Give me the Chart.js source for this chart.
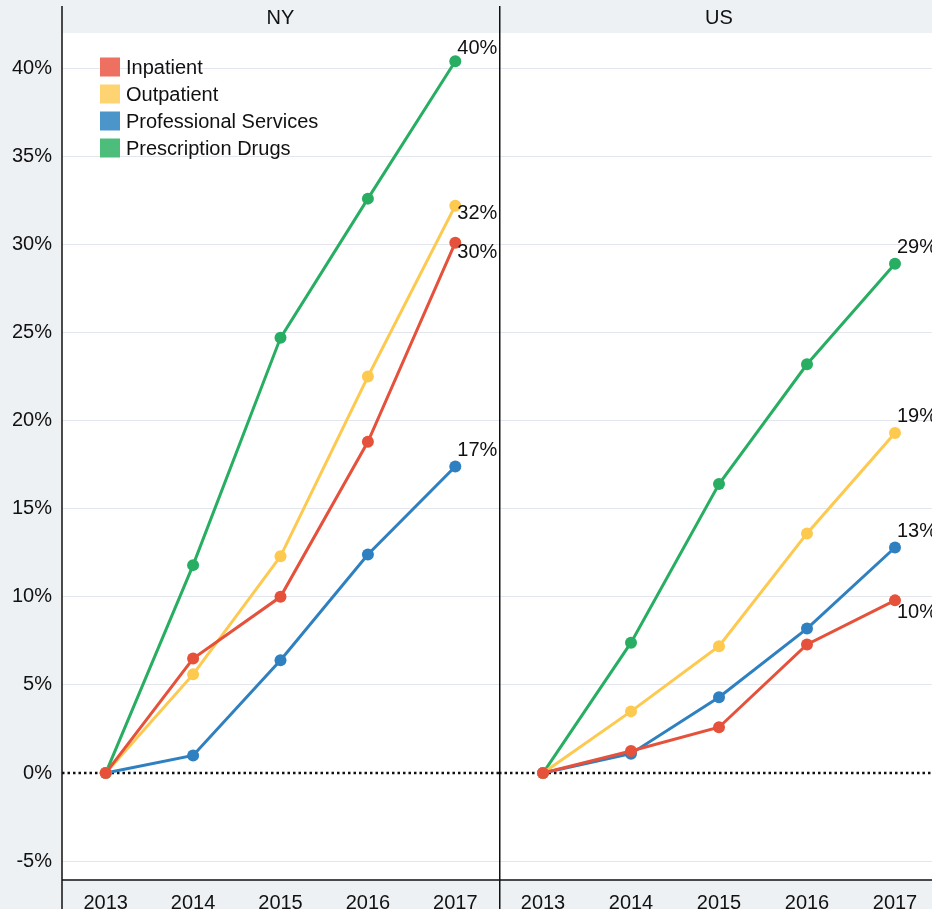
<!DOCTYPE html>
<html>
<head>
<meta charset="utf-8">
<script src="https://cdn.jsdelivr.net/npm/chart.js@4/dist/chart.umd.min.js"></script>
<style>
    html, body { margin: 0; padding: 0; background: #edf1f4; overflow: hidden; }
    #left { position: absolute; left: 0; top: 0; width: 499px; height: 909px; }
    #right { position: absolute; left: 499px; top: 0; width: 440px; height: 909px; }
</style>
</head>
<body>
<div id="left"><canvas id="chartNY" width="499" height="909"></canvas></div>
<div id="right"><canvas id="chartUS" width="440" height="909"></canvas></div>
<script>
var years = ['2013', '2014', '2015', '2016', '2017'];
var seriesNames = ['Inpatient', 'Outpatient', 'Professional Services', 'Prescription Drugs'];
var colors = ['#e5513a', '#fdc94f', '#2e80c0', '#27ae62'];
var legendColors = ['#ee7060', '#fed472', '#4c95cb', '#4dbd7c'];

// NY cumulative growth since 2013 (%)
var nyInpatient = [0, 6.5, 10.0, 18.8, 30.1];
var nyOutpatient = [0, 5.6, 12.3, 22.5, 32.2];
var nyProfessional = [0, 1.0, 6.4, 12.4, 17.4];
var nyDrugs = [0, 11.8, 24.7, 32.6, 40.4];

// US cumulative growth since 2013 (%)
var usInpatient = [0, 1.25, 2.6, 7.3, 9.8];
var usOutpatient = [0, 3.5, 7.2, 13.6, 19.3];
var usProfessional = [0, 1.1, 4.3, 8.2, 12.8];
var usDrugs = [0, 7.4, 16.4, 23.2, 28.9];

var yTicks = [-5, 0, 5, 10, 15, 20, 25, 30, 35, 40];

var FONT = '"Liberation Sans", Arial, sans-serif';
var FS = 20;

function makeDatasets(arrs) {
    var ds = [];
    for (var i = 0; i < arrs.length; i++) {
        ds.push({
            label: seriesNames[i],
            data: arrs[i],
            borderColor: colors[i],
            backgroundColor: colors[i],
            borderWidth: 3,
            pointRadius: 6,
            pointHoverRadius: 6,
            pointBorderWidth: 0,
            tension: 0
        });
    }
    return ds;
}

function panelPlugin(title, labelDy, showLegend, leftEdge) {
    return {
        id: 'panel' + title,
        beforeDraw: function (chart) {
            var c = chart.ctx, a = chart.chartArea;
            c.save();
            c.fillStyle = '#ffffff';
            c.fillRect(a.left, a.top, a.right - a.left, a.bottom - a.top);
            c.restore();
        },
        beforeDatasetsDraw: function (chart) {
            var c = chart.ctx, a = chart.chartArea;
            var y0 = chart.scales.y.getPixelForValue(0);
            c.save();
            c.strokeStyle = '#111';
            c.lineWidth = 2.5;
            c.setLineDash([2.5, 3]);
            c.beginPath();
            c.moveTo(a.left, y0);
            c.lineTo(a.right, y0);
            c.stroke();
            c.restore();
        },
        afterDatasetsDraw: function (chart) {
            var c = chart.ctx;
            c.save();
            c.font = FS + 'px ' + FONT;
            c.fillStyle = '#111';
            c.textAlign = 'left';
            c.textBaseline = 'middle';
            chart.data.datasets.forEach(function (ds, i) {
                var meta = chart.getDatasetMeta(i);
                var last = meta.data[meta.data.length - 1];
                var v = ds.data[ds.data.length - 1];
                c.fillText(Math.round(v) + '%', last.x + 2, last.y + labelDy[i]);
            });
            c.restore();
        },
        afterDraw: function (chart) {
            var c = chart.ctx, a = chart.chartArea;
            c.save();
            c.fillStyle = '#111';
            c.font = FS + 'px ' + FONT;
            c.textAlign = 'center';
            c.textBaseline = 'middle';
            c.fillText(title, (a.left + a.right) / 2, 18);
            c.strokeStyle = '#111';
            c.lineWidth = 1.5;
            c.beginPath();
            c.moveTo(leftEdge, 6);
            c.lineTo(leftEdge, chart.height);
            c.moveTo(a.left, a.bottom);
            c.lineTo(a.right, a.bottom);
            c.stroke();
            if (showLegend) {
                c.textAlign = 'left';
                chart.data.datasets.forEach(function (ds, i) {
                    var y = 67 + i * 27;
                    c.fillStyle = legendColors[i];
                    c.fillRect(100, y - 9.5, 20, 19);
                    c.fillStyle = '#111';
                    c.fillText(ds.label, 126, y + 1);
                });
            }
            c.restore();
        }
    };
}

function makeChart(id, title, arrs, showYLabels, labelDy, leftEdge) {
    var ctx = document.getElementById(id).getContext('2d');
    return new Chart(ctx, {
        type: 'line',
        data: {
            labels: years,
            datasets: makeDatasets(arrs)
        },
        options: {
            responsive: false,
            animation: false,
            events: [],
            layout: { autoPadding: false, padding: { top: 33, left: 0, right: 0, bottom: 0 } },
            plugins: {
                legend: { display: false },
                title: { display: false },
                tooltip: { enabled: false }
            },
            scales: {
                x: {
                    type: 'category',
                    offset: true,
                    grid: { display: false },
                    border: { display: false },
                    ticks: { color: '#111', font: { family: FONT, size: FS }, padding: 3, maxRotation: 0 },
                    afterFit: function (s) {
                        s.height = 29;
                        s.paddingLeft = 0;
                        s.paddingRight = 0;
                    }
                },
                y: {
                    type: 'linear',
                    min: -6.07,
                    max: 42,
                    border: { display: false },
                    grid: {
                        drawTicks: false,
                        color: function (ctx) {
                            return ctx.tick && ctx.tick.value === 0 ? 'rgba(0,0,0,0)' : '#e3e7ed';
                        },
                        lineWidth: 1
                    },
                    afterBuildTicks: function (s) {
                        s.ticks = yTicks.map(function (v) { return { value: v }; });
                    },
                    ticks: {
                        display: showYLabels,
                        color: '#111',
                        padding: 10,
                        font: { family: FONT, size: FS },
                        callback: function (v) { return v + '%'; }
                    },
                    afterFit: function (s) {
                        s.width = showYLabels ? 62 : 0;
                        s.paddingTop = 0;
                        s.paddingBottom = 0;
                    }
                }
            }
        },
        plugins: [panelPlugin(title, labelDy, showYLabels, leftEdge)]
    });
}

var chartNY = makeChart('chartNY', 'NY',
    [nyInpatient, nyOutpatient, nyProfessional, nyDrugs], true, [10, 8, -16, -13], 62);
var chartUS = makeChart('chartUS', 'US',
    [usInpatient, usOutpatient, usProfessional, usDrugs], false, [12, -16, -16, -16], 0.75);
</script>
</body>
</html>
